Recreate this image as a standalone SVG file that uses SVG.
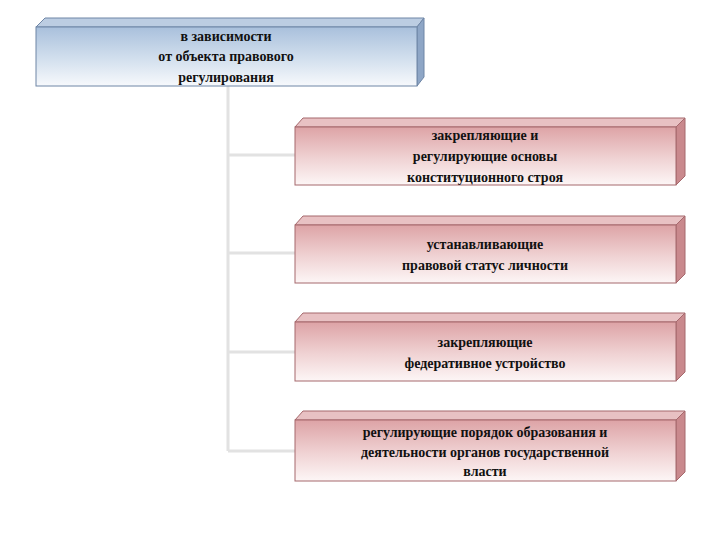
<svg xmlns="http://www.w3.org/2000/svg" width="720" height="540" viewBox="0 0 720 540">
<defs>
<linearGradient id="gb" x1="0" y1="0" x2="0" y2="1"><stop offset="0" stop-color="#a9c0dc"/><stop offset="0.55" stop-color="#d3e0ee"/><stop offset="1" stop-color="#f7f9fc"/></linearGradient>
<linearGradient id="gr" x1="0" y1="0" x2="0" y2="1"><stop offset="0" stop-color="#dda3a6"/><stop offset="0.55" stop-color="#f0d3d4"/><stop offset="1" stop-color="#fdf6f6"/></linearGradient>
</defs>
<style>
.t{font-family:"Liberation Serif",serif;font-weight:bold;font-size:14px;fill:#111;text-anchor:middle}
.fb{fill:url(#gb);stroke:#6f86a6;stroke-width:1}
.tb{fill:#bccde2;stroke:#6f86a6;stroke-width:1}
.sb{fill:#8ea6c6;stroke:#6f86a6;stroke-width:1}
.fr{fill:url(#gr);stroke:#a5686c;stroke-width:1}
.tr{fill:#e8c1c3;stroke:#a5686c;stroke-width:1}
.sr{fill:#c9898d;stroke:#a5686c;stroke-width:1}
.c{fill:none;stroke:#e2e2e2;stroke-width:3}
</style>
<rect width="720" height="540" fill="#fff"/>
<g id="connectors">
<path class="c" d="M228 86 V451 M228 155 H295 M228 253 H295 M228 352 H295 M228 451 H295"/>
</g>
<g id="root">
<polygon class="tb" points="36,27 45,18 424,18 417,27"/>
<polygon class="sb" points="417,27 424,18 424,77 417,86"/>
<rect class="fb" x="36" y="27" width="381" height="59"/>
<text class="t" x="226" y="41">в зависимости</text>
<text class="t" x="226" y="61">от объекта правового</text>
<text class="t" x="226" y="82">регулирования</text>
</g>
<g id="n1">
<polygon class="tr" points="295,127 303,118 685,118 676,127"/>
<polygon class="sr" points="676,127 685,118 685,176 676,185"/>
<rect class="fr" x="295" y="127" width="381" height="58"/>
<text class="t" x="485" y="140">закрепляющие и</text>
<text class="t" x="485" y="161">регулирующие основы</text>
<text class="t" x="485" y="182">конституционного строя</text>
</g>
<g id="n2">
<polygon class="tr" points="295,225 303,216 685,216 676,225"/>
<polygon class="sr" points="676,225 685,216 685,274 676,283"/>
<rect class="fr" x="295" y="225" width="381" height="58"/>
<text class="t" x="485" y="249">устанавливающие</text>
<text class="t" x="485" y="270">правовой статус личности</text>
</g>
<g id="n3">
<polygon class="tr" points="295,322 303,313 685,313 676,322"/>
<polygon class="sr" points="676,322 685,313 685,372 676,381"/>
<rect class="fr" x="295" y="322" width="381" height="59"/>
<text class="t" x="485" y="347">закрепляющие</text>
<text class="t" x="485" y="368">федеративное устройство</text>
</g>
<g id="n4">
<polygon class="tr" points="295,420 303,411 685,411 676,420"/>
<polygon class="sr" points="676,420 685,411 685,472 676,481"/>
<rect class="fr" x="295" y="420" width="381" height="61"/>
<text class="t" x="485" y="437">регулирующие порядок образования и</text>
<text class="t" x="485" y="457">деятельности органов государственной</text>
<text class="t" x="485" y="476">власти</text>
</g>
</svg>
